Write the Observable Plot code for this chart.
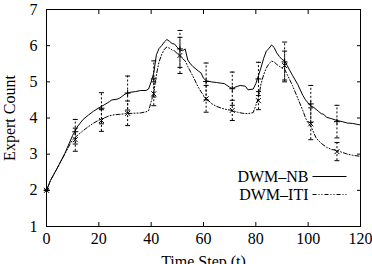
<!DOCTYPE html>
<html>
<head>
<meta charset="utf-8">
<script src="https://cdn.jsdelivr.net/npm/d3@7"></script>
<script src="https://cdn.jsdelivr.net/npm/@observablehq/plot@0.6"></script>
<style>
  body { margin: 0; background: #fff; }
</style>
</head>
<body>
<div id="chart"></div>
<script>
// Mean expert count per time step, DWM-NB
const nbT = [0, 1.5, 4, 7, 10, 12, 14, 16, 18, 20, 22, 24, 25, 27, 28, 30, 32, 34, 36, 38, 39, 40, 41, 42, 43, 44, 45, 46, 47, 48, 49, 50, 51, 52, 53, 54, 55, 56, 58, 59, 60, 61, 63, 65, 67, 68, 70, 71, 72, 74, 76, 77, 79, 80, 81, 82, 83, 84, 85, 86, 87, 88, 89, 90, 91, 92, 93, 94, 96, 98, 99, 101, 102, 104, 105, 106, 107, 109, 111, 113, 115, 117, 119, 120];
const nbV = [2.00, 2.27, 2.60, 3.02, 3.52, 3.78, 3.96, 4.08, 4.19, 4.28, 4.36, 4.45, 4.50, 4.52, 4.55, 4.66, 4.71, 4.73, 4.76, 4.76, 4.80, 5.00, 5.25, 5.75, 5.92, 6.00, 6.10, 6.17, 6.12, 6.06, 6.04, 5.95, 5.88, 5.86, 5.91, 5.60, 5.50, 5.42, 5.30, 5.25, 5.10, 5.03, 5.00, 4.98, 4.96, 4.95, 4.85, 4.81, 4.85, 4.90, 4.88, 4.78, 4.80, 4.95, 5.17, 5.40, 5.65, 5.85, 5.92, 6.02, 5.95, 5.80, 5.70, 5.62, 5.58, 5.45, 5.31, 5.18, 4.93, 4.62, 4.50, 4.33, 4.30, 4.18, 4.12, 4.10, 4.02, 3.98, 3.93, 3.90, 3.86, 3.85, 3.82, 3.81];

// Mean expert count per time step, DWM-ITI
const itiT = [0, 1.5, 4, 7, 9, 10, 12, 14, 16, 18, 20, 22, 24, 26, 28, 30, 33, 36, 38, 39, 40, 41, 42, 43, 44, 45, 46, 47, 48, 49, 50, 51, 53, 54, 56, 58, 60, 61, 63, 65, 67, 69, 71, 73, 75, 77, 79, 80, 81, 82, 83, 84, 85, 86, 87, 88, 89, 90, 91, 92, 93, 94, 96, 98, 99, 100, 101, 103, 105, 107, 109, 111, 113, 115, 117, 120];
const itiV = [2.00, 2.27, 2.60, 3.00, 3.28, 3.40, 3.53, 3.65, 3.76, 3.86, 3.94, 4.00, 4.06, 4.09, 4.10, 4.12, 4.13, 4.14, 4.17, 4.20, 4.45, 4.70, 5.20, 5.55, 5.75, 5.90, 5.96, 5.93, 5.88, 5.85, 5.78, 5.70, 5.58, 5.42, 5.15, 4.85, 4.62, 4.55, 4.40, 4.32, 4.27, 4.23, 4.21, 4.16, 4.13, 4.12, 4.15, 4.35, 4.55, 4.95, 5.20, 5.38, 5.50, 5.57, 5.55, 5.48, 5.43, 5.38, 5.35, 5.20, 5.05, 4.90, 4.55, 4.20, 4.00, 3.85, 3.78, 3.45, 3.30, 3.19, 3.13, 3.10, 3.05, 3.00, 2.97, 2.94];

// Sampled means with error bars
const barT    = [0, 11, 21, 31, 41, 51, 61, 71, 81, 91, 101, 111];
const nbMean  = [2.00, 3.62, 4.27, 4.69, 5.08, 5.91, 5.01, 4.81, 5.08, 5.55, 4.39, 3.90];
const nbErr   = [0.00, 0.34, 0.43, 0.47, 0.50, 0.51, 0.51, 0.46, 0.46, 0.55, 0.51, 0.45];
const itiMean = [2.00, 3.40, 3.93, 4.13, 4.67, 5.73, 4.53, 4.21, 4.48, 5.45, 3.84, 3.07];
const itiErr  = [0.00, 0.32, 0.30, 0.34, 0.33, 0.50, 0.37, 0.28, 0.25, 0.40, 0.44, 0.25];

const xTicks = [0, 20, 40, 60, 80, 100, 120];
const yTicks = [1, 2, 3, 4, 5, 6, 7];
const seriesNames = ["DWM\u2013NB", "DWM\u2013ITI"];

const nbLine = nbT.map((t, i) => ({t, v: nbV[i]}));
const itiLine = itiT.map((t, i) => ({t, v: itiV[i]}));
const nbBars = barT.map((t, i) => ({t, m: nbMean[i], lo: nbMean[i] - nbErr[i], hi: nbMean[i] + nbErr[i]}));
const itiBars = barT.map((t, i) => ({t, m: itiMean[i], lo: itiMean[i] - itiErr[i], hi: itiMean[i] + itiErr[i]}));

const ITI_DASH = "4,2,1,2,1,2";
const BAR_DASH = "2,2";
const TICK = 4;

// point glyphs drawn as plain strokes
const plusMark = {draw(c) { c.moveTo(-3, 0); c.lineTo(3, 0); c.moveTo(0, -3); c.lineTo(0, 3); }};
const timesMark = {draw(c) { c.moveTo(-2.5, -2.5); c.lineTo(2.5, 2.5); c.moveTo(-2.5, 2.5); c.lineTo(2.5, -2.5); }};
const capMark = {draw(c) { c.moveTo(-2.5, 0); c.lineTo(2.5, 0); }};
const swatch = {draw(c) { c.moveTo(-17, 0); c.lineTo(17, 0); }};

function errorBars(data, symbol) {
  return [
    Plot.ruleX(data, {x: "t", y1: "lo", y2: "hi", stroke: "black", strokeWidth: 1, strokeDasharray: BAR_DASH}),
    Plot.dot(data, {x: "t", y: "lo", symbol: capMark, fill: "none", stroke: "black", strokeWidth: 1}),
    Plot.dot(data, {x: "t", y: "hi", symbol: capMark, fill: "none", stroke: "black", strokeWidth: 1}),
    Plot.dot(data, {x: "t", y: "m", symbol, fill: "none", stroke: "black", strokeWidth: 1})
  ];
}

const chart = Plot.plot({
  width: 372,
  height: 264,
  marginLeft: 46,
  marginRight: 12,
  marginTop: 9,
  marginBottom: 38,
  style: {fontFamily: "'Liberation Serif', 'DejaVu Serif', serif", fontSize: "16px", background: "#fff", color: "black"},
  x: {domain: [0, 120]},
  y: {domain: [1, 7]},
  marks: [
    // labelled axes
    Plot.axisX(xTicks, {anchor: "bottom", tickSize: 0, tickPadding: 6, label: "Time Step (t)", labelAnchor: "center", labelArrow: "none", labelOffset: 40}),
    Plot.axisY(yTicks, {anchor: "left", tickSize: 0, tickPadding: 9, label: "Expert Count", labelAnchor: "center", labelArrow: "none"}),
    // tick marks pointing into the frame on all four sides
    Plot.axisX(xTicks, {anchor: "bottom", tickSize: TICK, dy: -TICK, tickFormat: () => "", label: null}),
    Plot.axisX(xTicks, {anchor: "top", tickSize: TICK, dy: TICK, tickFormat: () => "", label: null}),
    Plot.axisY(yTicks, {anchor: "left", tickSize: TICK, dx: TICK, tickFormat: () => "", label: null}),
    Plot.axisY(yTicks, {anchor: "right", tickSize: TICK, dx: -TICK, tickFormat: () => "", label: null}),
    Plot.frame({stroke: "black", strokeWidth: 1}),
    // series
    Plot.line(itiLine, {x: "t", y: "v", stroke: "black", strokeWidth: 1, strokeDasharray: ITI_DASH}),
    Plot.line(nbLine, {x: "t", y: "v", stroke: "black", strokeWidth: 1}),
    ...errorBars(itiBars, timesMark),
    ...errorBars(nbBars, plusMark),
    // key
    Plot.text([seriesNames[0]], {text: d => d, frameAnchor: "bottom-right", dx: -52, dy: -50, textAnchor: "end", lineAnchor: "middle", fill: "black"}),
    Plot.text([seriesNames[1]], {text: d => d, frameAnchor: "bottom-right", dx: -52, dy: -32, textAnchor: "end", lineAnchor: "middle", fill: "black"}),
    Plot.dot([seriesNames[0]], {frameAnchor: "bottom-right", dx: -31, dy: -50, symbol: swatch, fill: "none", stroke: "black", strokeWidth: 1}),
    Plot.dot([seriesNames[1]], {frameAnchor: "bottom-right", dx: -31, dy: -32, symbol: swatch, fill: "none", stroke: "black", strokeWidth: 1, strokeDasharray: ITI_DASH})
  ]
});

document.getElementById("chart").appendChild(chart);
</script>
</body>
</html>
